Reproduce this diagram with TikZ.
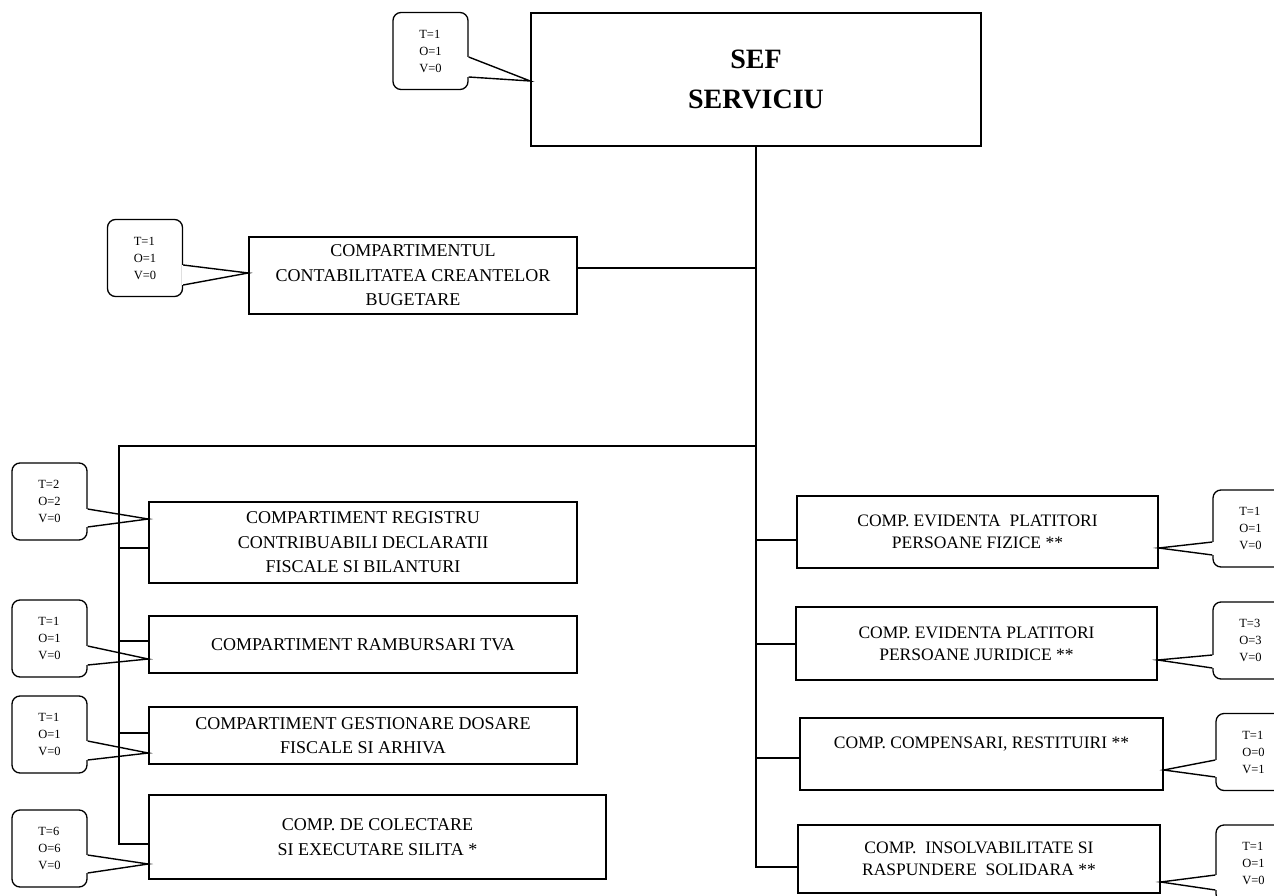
\documentclass[tikz,border=0pt]{standalone}
\usepackage{fontspec}
\setmainfont{Liberation Serif}
\usepackage{tikz}

\begin{document}
\begin{tikzpicture}[x=1pt, y=-1pt,
  unit/.style={draw, line width=1.5pt, align=center, inner sep=0pt, font=\fontsize{18}{24.5}\selectfont},
  runit/.style={unit, font=\fontsize{17.5}{22}\selectfont},
  countbox/.style={draw, line width=1.3pt, rounded corners=8pt, minimum width=75pt, minimum height=77pt, inner sep=0pt, align=left, font=\fontsize{12.5}{17}\selectfont},
  wire/.style={line width=1.4pt},
  gap/.style={white, line width=3pt}]

\useasboundingbox (0,0) rectangle (1274,896);
\clip (0,0) rectangle (1274,896);

% Head of service
\node[unit, minimum width=450pt, minimum height=133pt, font=\fontsize{28}{40}\selectfont\bfseries] at (756,79.5) (sef) {SEF\\SERVICIU};

% Compartments (left)
\node[unit, minimum width=328pt, minimum height=77pt] at (413,275.5) (ccb) {COMPARTIMENTUL\\CONTABILITATEA CREANTELOR\\BUGETARE};
\node[unit, minimum width=428pt, minimum height=81pt] at (363,542.5) (reg) {COMPARTIMENT REGISTRU\\CONTRIBUABILI DECLARATII\\FISCALE SI BILANTURI};
\node[unit, minimum width=428pt, minimum height=57pt] at (363,644.5) (tva) {COMPARTIMENT RAMBURSARI TVA};
\node[unit, minimum width=428pt, minimum height=57pt] at (363,735.5) (dos) {COMPARTIMENT GESTIONARE DOSARE\\FISCALE SI ARHIVA};
\node[unit, minimum width=457pt, minimum height=84pt] at (377.5,837) (col) {COMP. DE COLECTARE\\SI EXECUTARE SILITA *};

% Compartments (right)
\node[runit, minimum width=361pt, minimum height=72pt] at (977.5,532) (pf) {COMP. EVIDENTA\ \ PLATITORI\\PERSOANE FIZICE **};
\node[runit, minimum width=361pt, minimum height=73pt] at (976.5,643.5) (pj) {COMP. EVIDENTA PLATITORI\\PERSOANE JURIDICE **};
\node[runit, minimum width=363pt, minimum height=72pt] at (981.5,754) (cr) {COMP. COMPENSARI, RESTITUIRI **\\ \mbox{}};
\node[runit, minimum width=362pt, minimum height=68pt] at (979,859) (ins) {COMP.\ \ INSOLVABILITATE SI\\RASPUNDERE\ \ SOLIDARA **};

% Staff counts
\node[countbox] at (430.5,51) (n0) {T=1\\O=1\\V=0};
\node[countbox] at (145,258) (nccb) {T=1\\O=1\\V=0};
\node[countbox] at (49.5,501.5) (nreg) {T=2\\O=2\\V=0};
\node[countbox] at (49.5,638.5) (ntva) {T=1\\O=1\\V=0};
\node[countbox] at (49.5,734.5) (ndos) {T=1\\O=1\\V=0};
\node[countbox] at (49.5,848.5) (ncol) {T=6\\O=6\\V=0};
\node[countbox] at (1250.5,528.5) (npf) {T=1\\O=1\\V=0};
\node[countbox] at (1250.5,640.5) (npj) {T=3\\O=3\\V=0};
\node[countbox] at (1253.5,752) (ncr) {T=1\\O=0\\V=1};
\node[countbox] at (1253.5,863.5) (nins) {T=1\\O=1\\V=0};

% Hierarchy lines
\coordinate (bus) at (119,446);
\draw[wire] (sef.south) -- (sef.south |- 0,867) -- (ins.west |- 0,867);
\draw[wire] (sef.south |- 0,268) -- (ccb.east |- 0,268);
\draw[wire] (sef.south |- bus) -- (bus) -- (bus |- 0,844) -- (col.west |- 0,844);
\draw[wire] (bus |- 0,548) -- (reg.west |- 0,548);
\draw[wire] (bus |- 0,641) -- (tva.west |- 0,641);
\draw[wire] (bus |- 0,733) -- (dos.west |- 0,733);
\draw[wire] (sef.south |- 0,540) -- (pf.west |- 0,540);
\draw[wire] (sef.south |- 0,644) -- (pj.west |- 0,644);
\draw[wire] (sef.south |- 0,758) -- (cr.west |- 0,758);

% Count pointers
\draw[gap] (n0.east |- 0,57) -- (n0.east |- 0,77);
\draw[wire] (n0.east |- 0,57) -- (sef.west |- 0,81) -- (n0.east |- 0,77);
\draw[gap] (nccb.east |- 0,265) -- (nccb.east |- 0,285);
\draw[wire] (nccb.east |- 0,265) -- (ccb.west |- 0,273) -- (nccb.east |- 0,285);
\draw[gap] (nreg.east |- 0,509) -- (nreg.east |- 0,527);
\draw[wire] (nreg.east |- 0,509) -- (reg.west |- 0,519) -- (nreg.east |- 0,527);
\draw[gap] (ntva.east |- 0,646) -- (ntva.east |- 0,665);
\draw[wire] (ntva.east |- 0,646) -- (tva.west |- 0,659) -- (ntva.east |- 0,665);
\draw[gap] (ndos.east |- 0,741) -- (ndos.east |- 0,760);
\draw[wire] (ndos.east |- 0,741) -- (dos.west |- 0,753) -- (ndos.east |- 0,760);
\draw[gap] (ncol.east |- 0,855) -- (ncol.east |- 0,873);
\draw[wire] (ncol.east |- 0,855) -- (col.west |- 0,864) -- (ncol.east |- 0,873);
\draw[gap] (npf.west |- 0,542) -- (npf.west |- 0,555);
\draw[wire] (npf.west |- 0,542) -- (pf.east |- 0,548) -- (npf.west |- 0,555);
\draw[gap] (npj.west |- 0,655) -- (npj.west |- 0,668);
\draw[wire] (npj.west |- 0,655) -- (pj.east |- 0,660) -- (npj.west |- 0,668);
\draw[gap] (ncr.west |- 0,760) -- (ncr.west |- 0,777);
\draw[wire] (ncr.west |- 0,760) -- (cr.east |- 0,770) -- (ncr.west |- 0,777);
\draw[gap] (nins.west |- 0,875) -- (nins.west |- 0,890);
\draw[wire] (nins.west |- 0,875) -- (ins.east |- 0,882) -- (nins.west |- 0,890);
\end{tikzpicture}
\end{document}
